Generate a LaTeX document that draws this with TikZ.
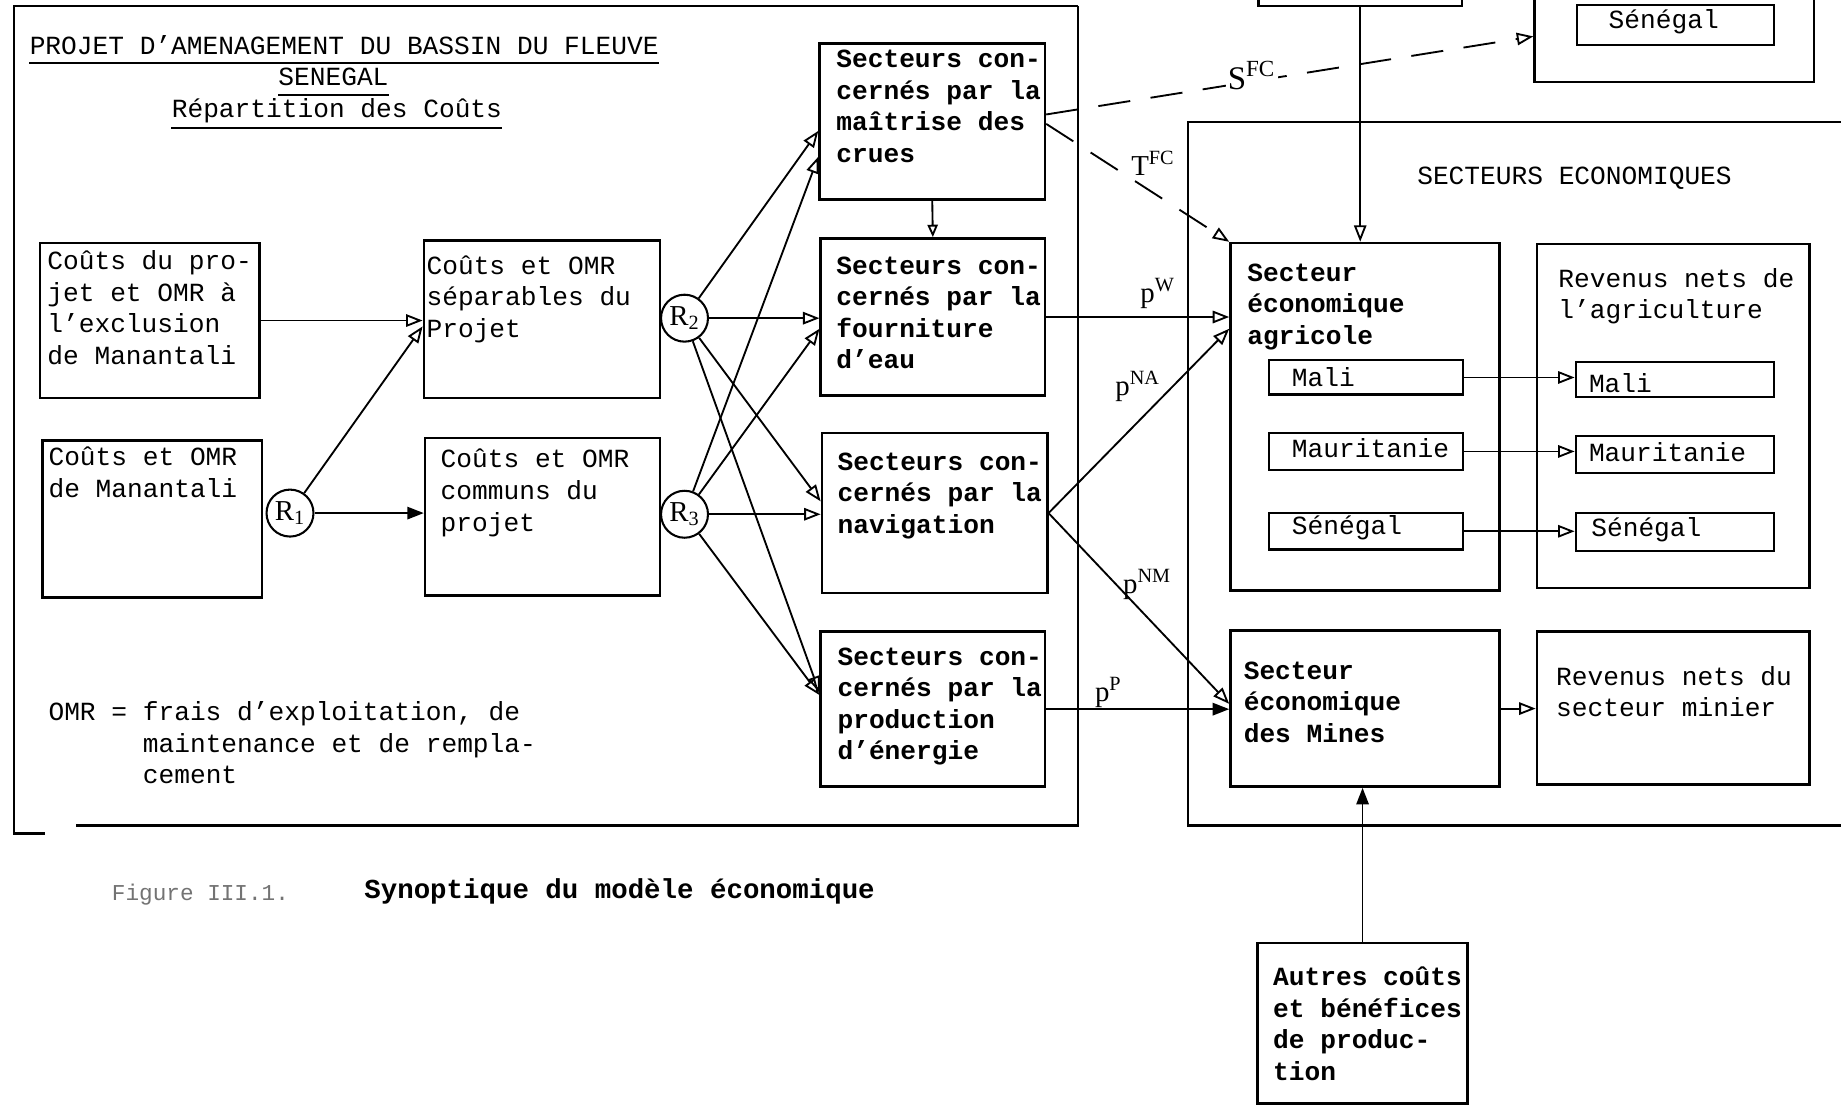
\documentclass[tikz,border=0pt]{standalone}
\usepackage{fontspec}
\setmainfont{Liberation Mono}
\newfontfamily\labfont{Liberation Serif}
\usetikzlibrary{arrows.meta,calc,fit}
\begin{document}
\begin{tikzpicture}[x=0.02cm,y=-0.02cm,
  frame/.style={draw, line width=1.2pt, inner sep=0pt, rectangle},
  subframe/.style={draw, line width=1pt, inner sep=0pt, rectangle},
  txt/.style={inner sep=0pt, anchor=base west, align=left, font=\fontsize{12.7}{15.3}\selectfont},
  mtxt/.style={inner sep=0pt, anchor=north west, yshift=-3pt, align=left, font=\fontsize{12.7}{15.3}\selectfont, execute at begin node=\strut},
  btxt/.style={mtxt, font=\fontsize{12.7}{15.3}\selectfont\bfseries},
  rnode/.style={draw, circle, line width=1pt, minimum size=0.8cm, inner sep=0pt, font=\labfont\fontsize{14}{16}\selectfont},
  conn/.style={line width=0.9pt, -{Triangle[open, length=8pt, width=6pt]}},
  fconn/.style={line width=0.9pt, -{Triangle[length=8pt, width=6pt]}},
  dconn/.style={conn, dash pattern=on 0.55cm off 0.35cm},
  lab/.style={inner sep=1pt, font=\labfont\fontsize{14}{16}\selectfont},
]
\useasboundingbox (0,0) rectangle (1568,942);
\fill[white] (0,0) rectangle (1568,942);
\begin{scope}
\clip (0,0) rectangle (1568,942);

% outer frames
\draw[line width=1.2pt] (918,5) -- (12,5) -- (12,710) -- (38,710);
\draw[line width=1.2pt] (918,5) -- (918,703) -- (65,703);
\draw[line width=1.2pt] (1600,104) -- (1012,104) -- (1012,703) -- (1600,703);

% titles
\node[txt] (t1) at (25,46) {PROJET D'AMENAGEMENT DU BASSIN DU FLEUVE};
\node[txt, anchor=base] (t2) at (284,73) {SENEGAL};
\node[txt] (t3) at (146,100) {Répartition des Coûts};
\draw[line width=0.8pt] ([yshift=-4.5pt]t1.base west) -- ([yshift=-4.5pt]t1.base east);
\draw[line width=0.8pt] ([yshift=-4.5pt]t2.base west) -- ([yshift=-4.5pt]t2.base east);
\draw[line width=0.8pt] ([yshift=-5pt]t3.base west) -- ([yshift=-5pt]t3.base east);

\node[txt, anchor=base] (t4) at (1341,157) {SECTEURS ECONOMIQUES};

% left boxes
\node[frame, fit={(34,207) (221,339)}] (A) {};
\node[mtxt] (At) at (40,208) {Coûts du pro-\\jet et OMR à\\l'exclusion\\de Manantali};
\node[frame, fit={(36,375) (223,509)}] (B) {};
\node[mtxt] (Bt) at (41,375) {Coûts et OMR\\de Manantali};
\node[frame, fit={(361,205) (562,339)}] (C) {};
\node[mtxt] (Ct) at (363,212) {Coûts et OMR\\séparables du\\Projet};
\node[frame, fit={(362,373) (562,507)}] (D) {};
\node[mtxt] (Dt) at (375,377) {Coûts et OMR\\communs du\\projet};

\node[rnode] (R1) at (247,437) {R\textsubscript{1}};
\node[rnode] (R2) at (583,271) {R\textsubscript{2}};
\node[rnode] (R3) at (583,438) {R\textsubscript{3}};

% secteurs boxes
\node[frame, fit={(698,37) (890,170)}] (E) {};
\node[btxt] (Et) at (712,37) {Secteurs con-\\cernés par la\\maîtrise des\\crues};
\node[frame, fit={(699,203) (890,337)}] (F) {};
\node[btxt] (Ft) at (712,213) {Secteurs con-\\cernés par la\\fourniture\\d'eau};
\node[frame, fit={(700,369) (892,505)}] (G) {};
\node[btxt] (Gt) at (713,380) {Secteurs con-\\cernés par la\\navigation};
\node[frame, fit={(699,538) (890,670)}] (H) {};
\node[btxt] (Ht) at (713,546) {Secteurs con-\\cernés par la\\production\\d'énergie};

% OMR note
\node[mtxt] (omr) at (41,592) {OMR = frais d'exploitation, de\\\phantom{OMR\ =\ }maintenance et de rempla-\\\phantom{OMR\ =\ }cement};

% caption
\node[inner sep=0pt, anchor=base west, font=\fontsize{11}{13}\selectfont, text=black!55] (fig) at (95,767) {Figure III.1.};
\node[inner sep=0pt, anchor=base west, font=\fontsize{13.3}{15}\selectfont\bfseries] (syn) at (310,765) {Synoptique du modèle économique};

% right side
\node[frame, fit={(1072,-40) (1245,5)}] (N) {};
\node[frame, fit={(1307,-40) (1545,70)}] (O) {};
\node[subframe, fit={(1343,4) (1511,38)}] (Os) {};
\node[txt, anchor=base] (Ost) at (1417,24) {Sénégal};

\node[frame, fit={(1048,207) (1277,503)}] (I) {};
\node[btxt] (It) at (1062,219) {Secteur\\économique\\agricole};
\node[frame, fit={(1309,208) (1541,501)}] (J) {};
\node[mtxt] (Jt) at (1327,223) {Revenus nets de\\l'agriculture};

\node[subframe, fit={(1081,307) (1246,336)}] (Im) {};
\node[txt] (Imt) at (1100,329) {Mali};
\node[subframe, fit={(1081,369) (1246,400)}] (Ir) {};
\node[txt] (Irt) at (1100,390) {Mauritanie};
\node[subframe, fit={(1081,437) (1246,468)}] (Is) {};
\node[txt] (Ist) at (1100,455) {Sénégal};

\node[subframe, fit={(1342,308) (1511,338)}] (Jm) {};
\node[txt] (Jmt) at (1353,334) {Mali};
\node[subframe, fit={(1342,371) (1511,403)}] (Jr) {};
\node[txt] (Jrt) at (1353,393) {Mauritanie};
\node[subframe, fit={(1342,437) (1511,469)}] (Js) {};
\node[txt] (Jst) at (1355,457) {Sénégal};

\node[frame, fit={(1048,537) (1277,670)}] (K) {};
\node[btxt] (Kt) at (1059,558) {Secteur\\économique\\des Mines};
\node[frame, fit={(1309,538) (1541,668)}] (L) {};
\node[mtxt] (Lt) at (1325,562) {Revenus nets du\\secteur minier};

\node[frame, fit={(1071,803) (1250,940)}] (M) {};
\node[btxt] (Mt) at (1084,818) {Autres coûts\\et bénéfices\\de produc-\\tion};

% connectors left
\draw[conn] (A.east) -- (A.east -| C.west);
\draw[conn] (R1) -- ($(C.west)+(0,6)$);
\draw[fconn] (R1) -- (R1 -| D.west);

\draw[conn] (R2) -- ($(E.west)+(0,8)$);
\draw[conn] (R3) -- ($(E.west)+(0,30)$);
\draw[conn] (R2) -- (R2 -| F.west);
\draw[conn] (R3) -- ($(F.west)+(0,10)$);
\draw[conn] (R2) -- ($(G.west)+(0,-10)$);
\draw[conn] (R3) -- (R3 -| G.west);
\draw[conn] (R2) -- ($(H.west)+(0,-14)$);
\draw[conn] (R3) -- ($(H.west)+(0,-12)$);

\draw[line width=0.9pt, -{Triangle[open, length=6pt, width=5pt]}] (E.south) -- (F.north);

% connectors middle
\draw[dconn] ($(E.east)+(0,-6)$) -- ($(O.west)+(0,16)$);
\draw[dconn] ($(E.east)+(0,2)$) -- (I.north west);
\draw[conn] (F.east) -- (F.east -| I.west);
\draw[conn] (G.east) -- ($(I.west)+(0,-75)$);
\draw[conn] (G.east) -- ($(K.west)+(0,-4)$);
\draw[fconn] (H.east) -- (H.east -| K.west);

\node[lab, fill=white] (sfc) at (1066,64) {\fontsize{16}{18}\selectfont S\textsuperscript{FC}};
\node[lab] (tfc) at (982,139) {T\textsuperscript{FC}};
\node[lab] (pw) at (986,250) {p\textsuperscript{W}};
\node[lab] (pna) at (969,329) {p\textsuperscript{NA}};
\node[lab] (pnm) at (977,498) {p\textsuperscript{NM}};
\node[lab] (pp) at (944,590) {p\textsuperscript{P}};

% connectors right
\draw[conn] (N.south) -- (N.south |- I.north);
\draw[conn] (Im.east) -- (Im.east -| Jm.west);
\draw[conn] (Ir.east) -- (Ir.east -| Jr.west);
\draw[conn] (Is.east) -- (Is.east -| Js.west);
\draw[conn] (K.east) -- (K.east -| L.west);
\draw[fconn] (M.north) -- (M.north |- K.south);

\end{scope}
\end{tikzpicture}
\end{document}
